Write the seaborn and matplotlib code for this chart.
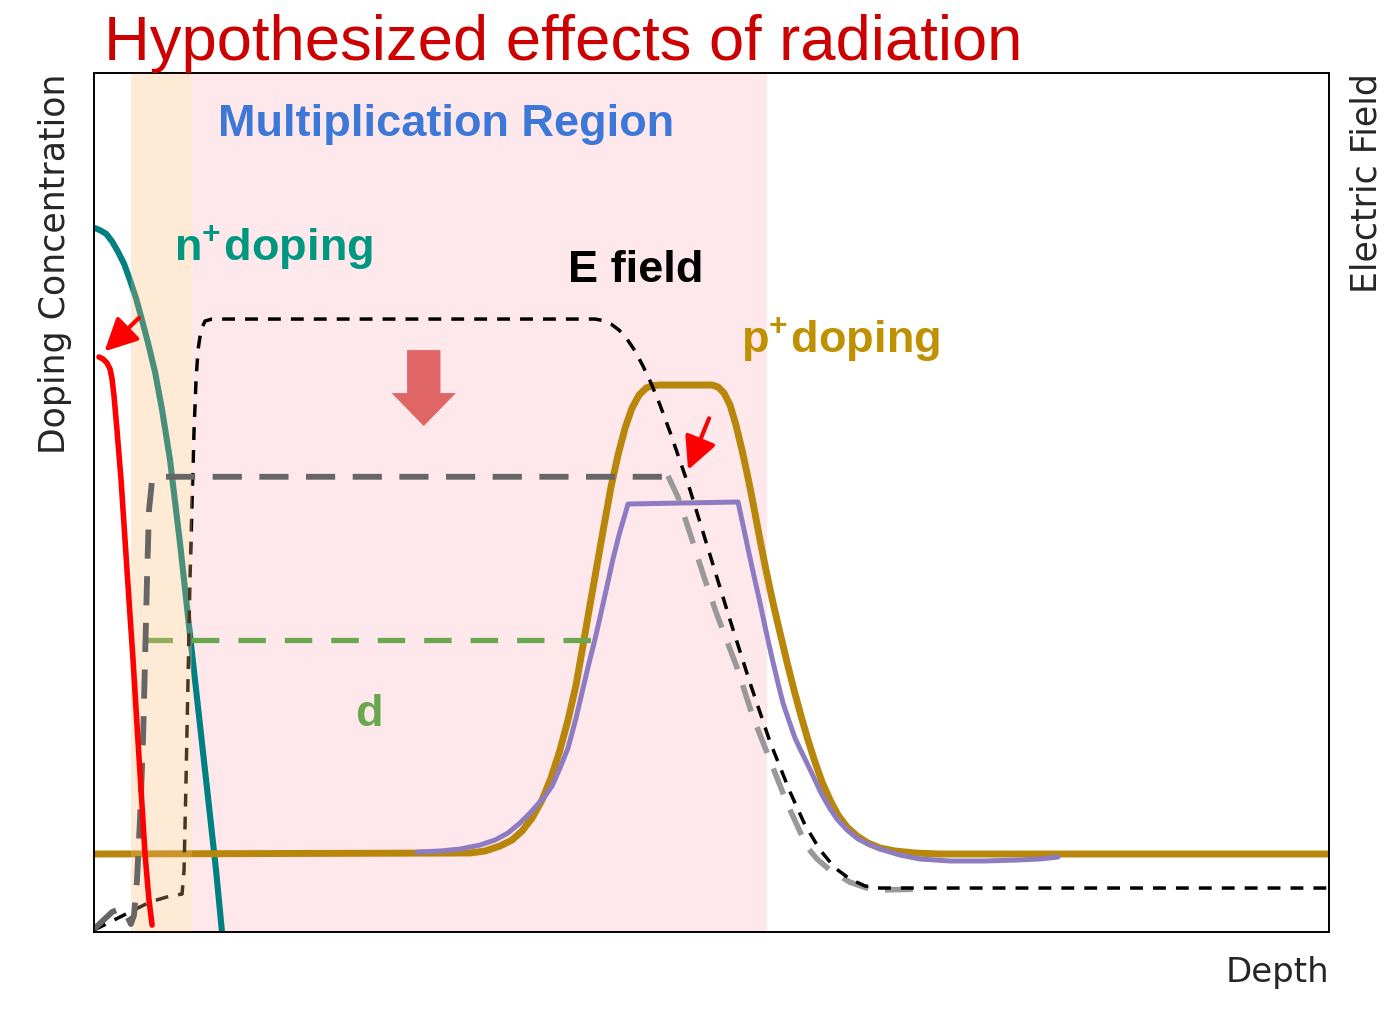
import matplotlib
matplotlib.use("Agg")
import matplotlib.pyplot as plt
import seaborn as sns

sns.set_theme(style="white")
plt.rcParams["font.family"] = ["DejaVu Sans"]
plt.rcParams["mathtext.fontset"] = "custom"
plt.rcParams["mathtext.rm"] = "Liberation Sans:bold"
plt.rcParams["mathtext.bf"] = "Liberation Sans:bold"

# ---------------- data (depth, value), arbitrary units 0-100 ----------------
n_depth = [0, 0.49, 0.97, 1.46, 1.94, 2.43, 2.91, 3.40, 3.89, 4.37, 4.94, 5.51, 6.15,
           6.96, 7.77, 8.58, 9.39, 9.88, 10.36]
n_conc = [82.0, 81.7, 81.3, 80.4, 79.2, 77.8, 75.9, 73.8, 71.2, 68.6, 65.2, 60.8, 55.0,
          45.3, 34.6, 24.1, 13.6, 7.2, 0.0]

p_depth = [0, 30.45, 31.66, 32.87, 33.85, 34.66, 35.47, 36.28, 37.00, 37.73, 38.38, 39.03,
           39.60, 40.16, 40.73, 41.30, 41.86, 42.43, 43.00, 43.56, 44.13, 44.70, 45.26,
           45.83, 50.04, 50.53, 51.01, 51.50, 51.98, 52.47, 52.96, 53.44, 53.93, 54.41,
           54.98, 55.55, 56.11, 56.68, 57.25, 57.81, 58.38, 58.95, 59.60, 60.24, 60.97,
           61.78, 62.67, 63.64, 64.86, 66.48, 68.50, 100]
p_conc = [9.08, 9.20, 9.43, 10.01, 10.71, 11.76, 13.27, 15.37, 17.93, 21.19, 24.68, 28.76,
          33.41, 38.07, 42.72, 47.38, 51.80, 55.53, 58.67, 61.00, 62.51, 63.33, 63.62,
          63.68, 63.68, 63.45, 62.75, 61.35, 59.02, 56.11, 52.85, 49.36, 45.63, 42.14,
          38.30, 34.81, 31.43, 28.17, 25.15, 22.35, 19.79, 17.46, 15.37, 13.62, 12.22,
          11.18, 10.36, 9.78, 9.43, 9.20, 9.08, 9.08]

p_rad_depth = [26.15, 28.02, 29.64, 31.26, 32.47, 33.52, 34.49, 35.30, 35.95, 36.52, 37.09,
               37.73, 38.38, 39.03, 39.60, 40.08, 40.57, 41.05, 41.54, 42.02, 42.51, 42.91,
               43.24, 52.15, 52.55, 52.96, 53.44, 53.93, 54.41, 54.90, 55.38, 55.79, 56.28,
               56.76, 57.25, 57.73, 58.30, 58.87, 59.51, 60.16, 60.97, 61.86, 62.83, 63.89,
               65.26, 66.88, 69.31, 72.15, 74.74, 76.60, 78.06]
p_rad_conc = [9.31, 9.43, 9.66, 10.13, 10.71, 11.53, 12.69, 13.85, 14.90, 15.83, 17.00,
              19.09, 21.42, 24.91, 28.41, 31.32, 34.11, 37.14, 40.28, 43.42, 46.22, 48.20,
              49.83, 50.06, 47.38, 44.59, 41.44, 38.30, 35.04, 31.90, 28.99, 26.66, 24.56,
              22.58, 21.07, 19.67, 17.93, 16.18, 14.55, 13.15, 11.88, 10.83, 10.13, 9.55,
              8.96, 8.50, 8.27, 8.27, 8.38, 8.50, 8.73]

n_rad_depth = [0.40, 0.73, 1.05, 1.30, 1.46, 1.62, 1.86, 2.19, 2.51, 2.83, 3.16, 3.48,
               3.81, 4.13, 4.45, 4.70]
n_rad_conc = [66.94, 66.71, 66.24, 65.54, 64.38, 62.40, 58.44, 52.62, 45.66, 38.65, 31.66,
              24.10, 16.53, 9.08, 3.73, 0.81]

e_depth = [0, 1.30, 2.91, 4.53, 6.15, 7.13, 7.29, 7.45, 7.61, 7.77, 7.94, 8.10, 8.26, 8.42,
           8.66, 8.99, 9.55, 40.57, 41.21, 41.86, 42.51, 43.16, 43.81, 44.45, 45.10, 45.83,
           46.64, 48.26, 49.88, 51.50, 53.12, 54.74, 56.36, 57.57, 58.79, 60.00, 61.21,
           62.43, 63.64, 100]
e_field = [0.23, 1.16, 2.33, 3.49, 4.19, 4.42, 7.22, 17.69, 29.34, 40.98, 50.29, 58.44,
           64.26, 67.75, 70.08, 71.13, 71.36, 71.36, 71.19, 70.78, 70.08, 69.03, 67.64,
           65.89, 63.91, 61.35, 58.21, 51.46, 43.89, 36.32, 28.99, 22.12, 16.30, 12.46,
           9.55, 7.45, 6.17, 5.36, 5.12, 5.12]

e_rad_depth = [0, 1.46, 2.27, 2.75, 2.99, 3.24, 3.48, 3.72, 3.97, 4.13, 4.29, 4.45, 4.70,
               5.34, 46.23]
e_rad_field = [0.35, 2.33, 2.79, 1.63, 0.93, 1.98, 6.05, 13.0, 22.4, 31.7, 41.0, 49.1,
               52.6, 53.0, 53.0]

e_rad_tail_depth = [46.48, 47.29, 48.26, 49.47, 50.45, 52.06, 53.36, 54.74, 56.11, 57.73,
                    58.54, 59.60, 61.21, 62.83, 63.89, 67.04]
e_rad_tail_field = [53.1, 50.6, 46.4, 41.0, 36.9, 30.8, 25.0, 20.0, 15.0, 9.9,
                    8.5, 7.2, 5.8, 5.0, 4.9, 5.0]

d_depth = [4.13, 40.57]
d_level = [34.0, 34.0]

n_region = (2.99, 7.94)
mult_region = (7.94, 54.49)

arrow_n_tail, arrow_n_head = (3.64, 71.5), (0.85, 67.6)
arrow_p_tail, arrow_p_head = (49.8, 59.8), (48.1, 53.8)
big_arrow_x, big_arrow_top, big_arrow_len = 26.7, 67.75, 8.85

# ---------------- figure ----------------
fig = plt.figure(figsize=(13.95, 10.09), dpi=100)
ax = fig.add_axes([0.0674, 0.0763, 0.8853, 0.8513])
ax.set_xlim(0, 100)
ax.set_ylim(0, 100)

ax.axvspan(*mult_region, color="#FFE8EC", lw=0, zorder=0)
ax.axvspan(*n_region, color="#FFBA75", alpha=0.29, lw=0, zorder=3.5)

common = dict(ax=ax, sort=False, estimator=None)
sns.lineplot(x=n_depth, y=n_conc, color="#008080", lw=4.4, zorder=2, **common)
sns.lineplot(x=p_depth, y=p_conc, color="#B8860B", lw=5.0, zorder=2, **common)
sns.lineplot(x=p_rad_depth, y=p_rad_conc, color="#8E7CC3", lw=3.6, zorder=2.3, **common)
sns.lineplot(x=d_depth, y=d_level, color="#6AA84F", lw=3.8, zorder=2.2,
             linestyle=(0, (5.2, 3.6)), **common)
sns.lineplot(x=e_rad_tail_depth, y=e_rad_tail_field, color="#999999", lw=4.0, zorder=2.6,
             linestyle=(0, (5.0, 3.0)), **common)
sns.lineplot(x=e_depth, y=e_field, color="black", lw=2.5, zorder=2.7,
             linestyle=(0, (3.7, 2.9)), **common)
sns.lineplot(x=e_rad_depth, y=e_rad_field, color="#666666", lw=4.2, zorder=4,
             linestyle=(0, (5.0, 3.0)), **common)
sns.lineplot(x=n_rad_depth, y=n_rad_conc, color="red", lw=4.0, zorder=4.2, **common)

for tail, head in [(arrow_n_tail, arrow_n_head), (arrow_p_tail, arrow_p_head)]:
    ax.annotate("", xy=head, xytext=tail,
                arrowprops=dict(arrowstyle="-|>,head_length=0.9,head_width=0.45",
                                color="red", lw=3, mutation_scale=22,
                                shrinkA=0, shrinkB=0), zorder=5)

ax.arrow(big_arrow_x, big_arrow_top, 0, -big_arrow_len, width=2.7, head_width=5.2,
         head_length=3.84, length_includes_head=True, color="#E06666", lw=0, zorder=5)

bold = dict(fontfamily="Liberation Sans", fontweight="bold", fontsize=32.5,
            ha="left", va="baseline", zorder=6)
ax.text(10.04, 92.65, "Multiplication Region", color="#3C78D8", **bold)
ax.text(6.48, 78.1, r"n$^{+}\hspace{0.05}$doping", color="#009780", **bold)
ax.text(38.38, 75.7, "E field", color="black", **bold)
ax.text(52.40, 67.4, r"p$^{+}\hspace{0.05}$doping", color="#BF9000", **bold)
ax.text(21.13, 24.0, "d", color="#6AA84F", **bold)

fig.text(104 / 1395, 1 - 60 / 1009, "Hypothesized effects of radiation",
         fontfamily="Liberation Sans", fontsize=45.6, color="#CC0000",
         ha="left", va="baseline")

ax.set_xticks([])
ax.set_yticks([])
ax.set_xlabel("Depth", fontsize=24.5, loc="right", labelpad=17)
ax.set_ylabel("Doping Concentration", fontsize=25, loc="top", labelpad=16)

ax2 = ax.twinx()
ax2.set_ylim(0, 100)
ax2.set_yticks([])
ax2.set_ylabel("Electric Field", fontsize=25, loc="top", labelpad=15)

for a in (ax, ax2):
    for s in a.spines.values():
        s.set_color("black")
        s.set_linewidth(1.2)
        s.set_visible(True)

fig.savefig("out.png", dpi=100)
